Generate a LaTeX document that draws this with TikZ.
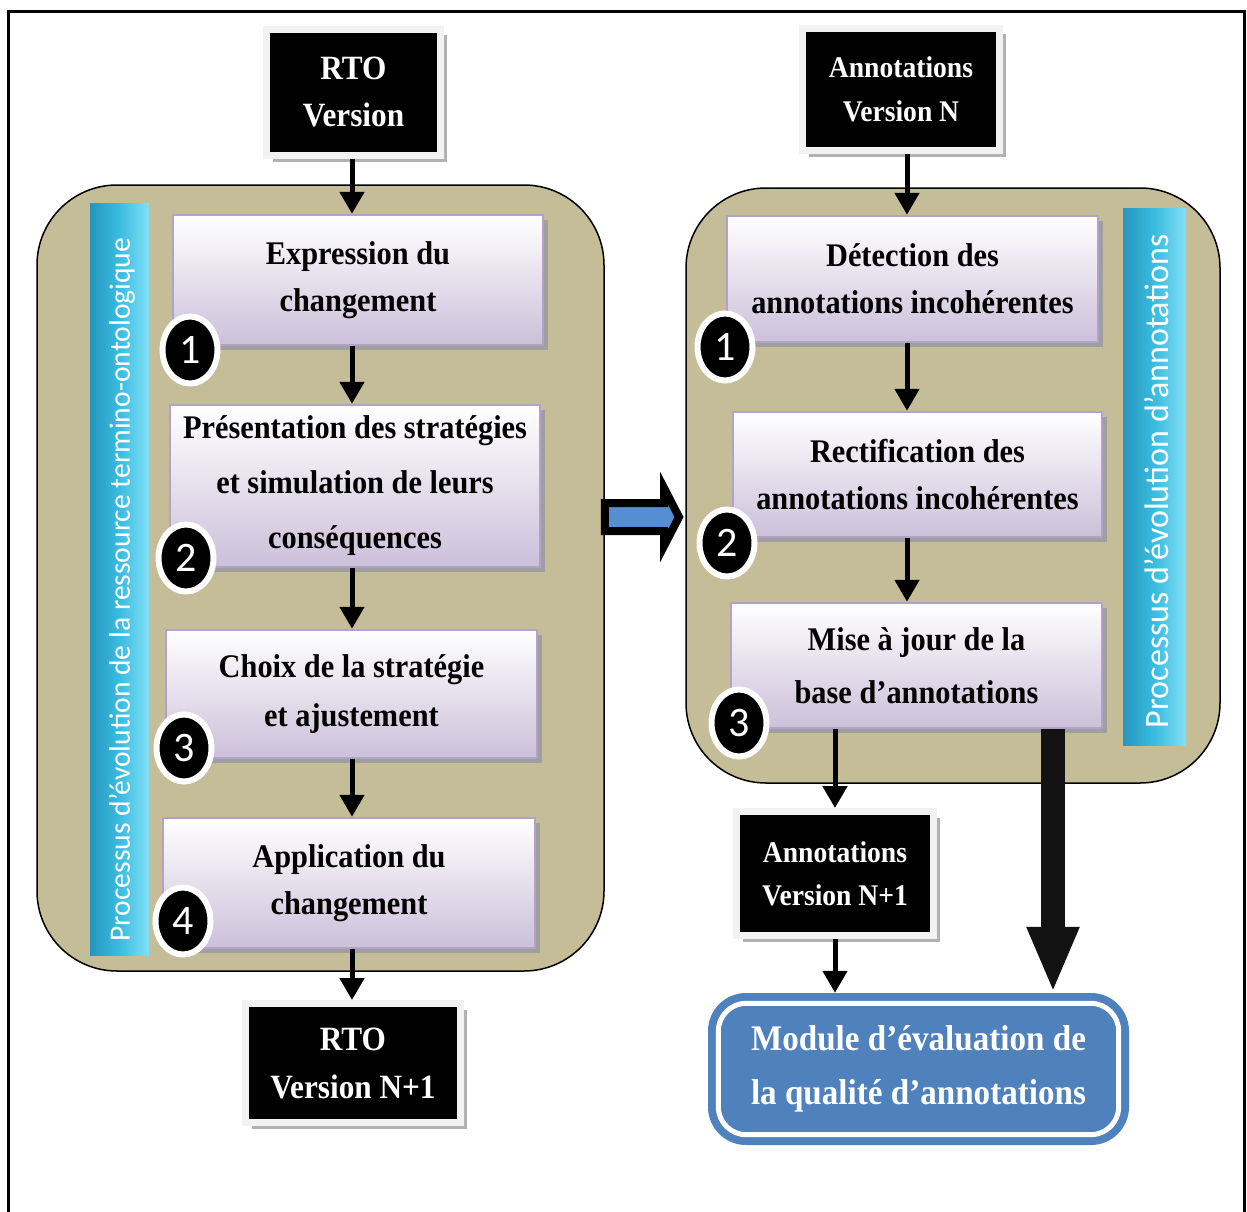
\documentclass[tikz,border=0pt]{standalone}
\usepackage{fontspec}
\setmainfont[FakeStretch=0.92]{Liberation Serif}
\newfontfamily\carlito{Carlito}
\usetikzlibrary{shapes.geometric,shadows,arrows.meta,calc}
\definecolor{ctan}{RGB}{196,189,151}
\definecolor{lav}{RGB}{204,192,218}
\definecolor{lavb}{RGB}{179,162,199}
\definecolor{bard}{RGB}{38,150,190}
\definecolor{barm}{RGB}{58,188,224}
\definecolor{barl}{RGB}{130,224,246}
\definecolor{arrblue}{RGB}{85,142,213}
\definecolor{modblue}{RGB}{79,129,189}
\definecolor{framegray}{RGB}{242,242,242}
\begin{document}
\begin{tikzpicture}[x=1pt,y=-1pt,
 container/.style={draw=black, line width=1.5pt, fill=ctan, rounded corners=80pt, inner sep=0pt},
 procbox/.style={draw=lavb, line width=2.5pt, top color=white, bottom color=lav, inner sep=0pt, align=center,
   font=\fontsize{33}{47}\selectfont\bfseries,
   drop shadow={shadow xshift=5pt, shadow yshift=-5pt, fill=gray!75, opacity=1}},
 blackbox/.style={fill=black, draw=framegray, line width=7pt, text=white, inner sep=0pt, align=center,
   drop shadow={shadow xshift=6pt, shadow yshift=-6pt, fill=gray!60, opacity=1}},
 numc/.style={ellipse, fill=black, draw=white, line width=6pt, text=white, inner sep=0pt,
   minimum width=55pt, minimum height=67pt, font=\carlito\fontsize{42}{42}\selectfont},
 bar/.style={left color=bard, right color=barl, middle color=barm, inner sep=0pt},
 bartext/.style={rotate=90, text=white, inner sep=0pt},
 arr/.style={line width=5pt, -{Triangle[width=24pt,length=22pt]}},
]
\useasboundingbox (0,0) rectangle (1247,1212);
% outer frame
\draw[line width=3.5pt] (8.5,1212) -- (8.5,11.5) -- (1244.5,11.5) -- (1244.5,1212);

% containers
\node[container, minimum width=567pt, minimum height=786pt] (L) at (320.5,578) {};
\node[container, minimum width=534pt, minimum height=595pt] (R) at (953,485.5) {};

% side bars
\node[bar, minimum width=59pt, minimum height=752pt] (lbar) at (119.5,579) {};
\node[bartext, font=\carlito\fontsize{29.6}{30}\selectfont] (lbt) at (122,589.5) {Processus d’évolution de la ressource termino-ontologique};
\node[bar, minimum width=63pt, minimum height=537pt] (rbar) at (1154.5,476.5) {};
\node[bartext, font=\carlito\fontsize{34}{34}\selectfont] (rbt) at (1157,481) {Processus d’évolution d’annotations};

% input / output boxes
\node[blackbox, minimum width=174pt, minimum height=126pt, font=\fontsize{34}{47}\selectfont\bfseries] (rto) at (353.5,92.5) {RTO\\Version};
\node[blackbox, minimum width=197pt, minimum height=122pt, font=\fontsize{30}{44}\selectfont\bfseries] (an) at (901,89.5) {Annotations\\Version N};
\node[blackbox, minimum width=215pt, minimum height=119pt, font=\fontsize{34}{48}\selectfont\bfseries] (rto1) at (353,1063) {RTO\\Version N+1};
\node[blackbox, minimum width=197pt, minimum height=124pt, font=\fontsize{30}{43}\selectfont\bfseries] (an1) at (835,873.5) {Annotations\\Version N+1};

% left process boxes
\node[procbox, minimum width=370pt, minimum height=130pt] (b1) at (358,280) {Expression du\\changement};
\node[procbox, minimum width=370pt, minimum height=162pt, font=\fontsize{33}{55}\selectfont\bfseries] (b2) at (355,486) {Présentation des stratégies\\et simulation de leurs\\conséquences};
\node[procbox, minimum width=371pt, minimum height=128pt, font=\fontsize{33}{49}\selectfont\bfseries] (b3) at (351.5,694) {Choix de la stratégie\\et ajustement};
\node[procbox, minimum width=372pt, minimum height=130pt] (b4) at (349,883) {Application du\\changement};

% right process boxes
\node[procbox, minimum width=371pt, minimum height=126pt] (r1) at (912.5,279) {Détection des\\annotations incohérentes};
\node[procbox, minimum width=369pt, minimum height=125pt] (r2) at (917.5,474.5) {Rectification des\\annotations incohérentes};
\node[procbox, minimum width=371pt, minimum height=125pt, font=\fontsize{33}{53}\selectfont\bfseries] (r3) at (916.5,665.5) {Mise à jour de la\\base d’annotations};

% module
\node[fill=modblue, rounded corners=38pt, minimum width=421pt, minimum height=152pt, text=white, align=center,
  font=\fontsize{36}{54}\selectfont\bfseries] (mod) at (918.5,1069) {Module d’évaluation de\\la qualité d’annotations};
\draw[white, line width=5pt, rounded corners=28pt] ($(mod.north west)+(10.5,10.5)$) rectangle ($(mod.south east)+(-10.5,-10.5)$);

% arrows
\coordinate (lx) at (352,0);
\coordinate (rx) at (907,0);
\coordinate (tx) at (1053,0);
\draw[arr] (rto.south -| lx) -- (b1.north -| lx);
\draw[arr] (b1.south -| lx) -- (b2.north -| lx);
\draw[arr] (b2.south -| lx) -- (b3.north -| lx);
\draw[arr] (b3.south -| lx) -- (b4.north -| lx);
\draw[arr] (b4.south -| lx) -- (rto1.north -| lx);
\draw[arr] (an.south -| rx) -- (r1.north -| rx);
\draw[arr] (r1.south -| rx) -- (r2.north -| rx);
\draw[arr] (r2.south -| rx) -- (r3.north -| rx);
\draw[arr] (r3.south -| an1.north) -- (an1.north);
\draw[arr] (an1.south) -- (mod.north -| an1.south);
\draw[line width=24pt, draw=black!93, -{Triangle[width=48pt,length=66pt]}] (r3.south -| tx) -- (mod.north -| tx);

% big blue arrow between processes
\draw[line width=8pt, fill=arrblue, line join=miter, miter limit=10]
  (L.east |- 0,503) -- (664,503) -- (664,488) -- (679,517) -- (664,546) -- (664,531) -- (L.east |- 0,531) -- cycle;

% step numbers
\node[numc] (c1) at (190,350) {1};
\node[numc] (c2) at (186,558) {2};
\node[numc] (c3) at (184,748) {3};
\node[numc] (c4) at (183,921) {4};
\node[numc] (d1) at (725,347) {1};
\node[numc] (d2) at (727,543) {2};
\node[numc] (d3) at (739,723) {3};
\end{tikzpicture}
\end{document}
